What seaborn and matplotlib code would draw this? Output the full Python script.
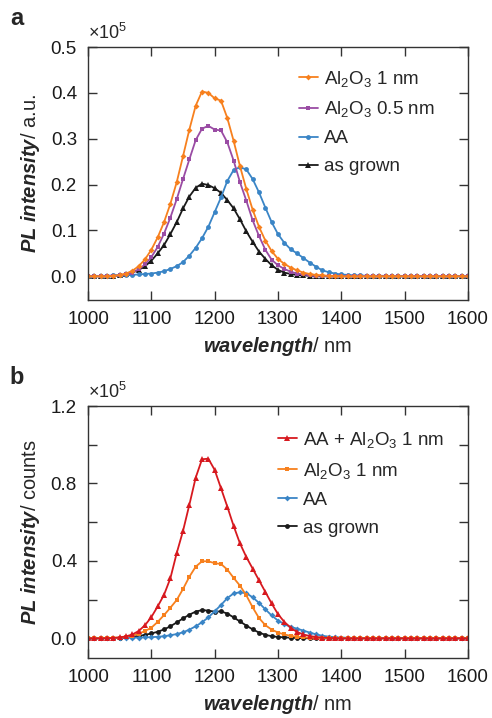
import numpy as np
import pandas as pd
import seaborn as sns
import matplotlib.pyplot as plt
from matplotlib.ticker import MultipleLocator, FormatStrFormatter

# wavelength grid, nm
wavelength = np.arange(1000, 1601, 10)

# PL intensities in units of 1e5 (1000 ... 1600 nm, 10 nm steps)
al2o3_1nm_a = [
    0.000, 0.000, 0.000, 0.000, 0.001, 0.003, 0.006, 0.012, 0.022, 0.037,
    0.058, 0.085, 0.118, 0.158, 0.205, 0.262, 0.320, 0.372, 0.403, 0.400,
    0.388, 0.383, 0.345, 0.295, 0.240, 0.190, 0.145, 0.108, 0.078, 0.055,
    0.038, 0.027, 0.019, 0.013, 0.008, 0.005, 0.003, 0.002, 0.001, 0.001,
    0.000, 0.000, 0.000, 0.000, 0.000, 0.000, 0.000, 0.000, 0.000, 0.000,
    0.000, 0.000, 0.000, 0.000, 0.000, 0.000, 0.000, 0.000, 0.000, 0.000,
    0.000]
al2o3_05nm_a = [
    0.000, 0.000, 0.000, 0.000, 0.001, 0.002, 0.004, 0.008, 0.015, 0.026,
    0.042, 0.064, 0.093, 0.128, 0.168, 0.212, 0.255, 0.297, 0.322, 0.328,
    0.320, 0.318, 0.292, 0.252, 0.205, 0.165, 0.122, 0.088, 0.058, 0.036,
    0.024, 0.016, 0.010, 0.006, 0.004, 0.002, 0.001, 0.001, 0.000, 0.000,
    0.000, 0.000, 0.000, 0.000, 0.000, 0.000, 0.000, 0.000, 0.000, 0.000,
    0.000, 0.000, 0.000, 0.000, 0.000, 0.000, 0.000, 0.000, 0.000, 0.000,
    0.000]
aa = [
    0.000, 0.000, 0.001, 0.001, 0.002, 0.002, 0.003, 0.003, 0.004, 0.005,
    0.006, 0.008, 0.011, 0.016, 0.022, 0.031, 0.045, 0.062, 0.083, 0.108,
    0.140, 0.172, 0.208, 0.232, 0.238, 0.233, 0.212, 0.183, 0.150, 0.118,
    0.092, 0.073, 0.059, 0.050, 0.040, 0.030, 0.021, 0.013, 0.009, 0.006,
    0.004, 0.003, 0.002, 0.002, 0.001, 0.001, 0.001, 0.001, 0.000, 0.000,
    0.000, 0.000, 0.000, 0.000, 0.000, 0.000, 0.000, 0.000, 0.000, 0.000,
    0.000]
as_grown_a = [
    0.000, 0.000, 0.000, 0.000, 0.001, 0.002, 0.004, 0.008, 0.014, 0.022,
    0.034, 0.050, 0.068, 0.092, 0.118, 0.148, 0.174, 0.193, 0.202, 0.199,
    0.192, 0.182, 0.166, 0.148, 0.124, 0.098, 0.075, 0.054, 0.038, 0.024,
    0.014, 0.008, 0.005, 0.003, 0.002, 0.001, 0.001, 0.000, 0.000, 0.000,
    0.000, 0.000, 0.000, 0.000, 0.000, 0.000, 0.000, 0.000, 0.000, 0.000,
    0.000, 0.000, 0.000, 0.000, 0.000, 0.000, 0.000, 0.000, 0.000, 0.000,
    0.000]

aa_al2o3_b = [
    0.000, 0.000, 0.000, 0.001, 0.002, 0.005, 0.010, 0.020, 0.038, 0.068,
    0.110, 0.165, 0.225, 0.310, 0.440, 0.555, 0.690, 0.830, 0.925, 0.928,
    0.870, 0.775, 0.680, 0.580, 0.490, 0.420, 0.360, 0.300, 0.240, 0.180,
    0.125, 0.085, 0.055, 0.033, 0.020, 0.012, 0.007, 0.004, 0.002, 0.001,
    0.000, 0.000, 0.000, 0.000, 0.000, 0.000, 0.000, 0.000, 0.000, 0.000,
    0.000, 0.000, 0.000, 0.000, 0.000, 0.000, 0.000, 0.000, 0.000, 0.000,
    0.000]
al2o3_1nm_b = [
    0.000, 0.000, 0.000, 0.001, 0.002, 0.004, 0.008, 0.014, 0.024, 0.038,
    0.055, 0.085, 0.120, 0.158, 0.198, 0.255, 0.318, 0.370, 0.398, 0.398,
    0.388, 0.384, 0.355, 0.312, 0.272, 0.222, 0.160, 0.105, 0.068, 0.045,
    0.030, 0.020, 0.013, 0.008, 0.005, 0.003, 0.002, 0.001, 0.000, 0.000,
    0.000, 0.000, 0.000, 0.000, 0.000, 0.000, 0.000, 0.000, 0.000, 0.000,
    0.000, 0.000, 0.000, 0.000, 0.000, 0.000, 0.000, 0.000, 0.000, 0.000,
    0.000]
as_grown_b = [
    0.000, 0.000, 0.000, 0.001, 0.002, 0.003, 0.005, 0.008, 0.012, 0.018,
    0.025, 0.034, 0.046, 0.062, 0.082, 0.103, 0.122, 0.138, 0.146, 0.143,
    0.138, 0.139, 0.128, 0.108, 0.087, 0.066, 0.046, 0.030, 0.018, 0.011,
    0.007, 0.005, 0.003, 0.002, 0.001, 0.000, 0.000, 0.000, 0.000, 0.000,
    0.000, 0.000, 0.000, 0.000, 0.000, 0.000, 0.000, 0.000, 0.000, 0.000,
    0.000, 0.000, 0.000, 0.000, 0.000, 0.000, 0.000, 0.000, 0.000, 0.000,
    0.000]

RED, ORANGE, BLUE, PURPLE, BLACK = '#d7191f', '#f7801e', '#3a85c6', '#9a4ca4', '#1a1a1a'

sns.set_theme(style='ticks')
plt.rcParams['font.family'] = ['Liberation Sans', 'DejaVu Sans']
plt.rcParams['mathtext.fontset'] = 'custom'
plt.rcParams['mathtext.rm'] = 'Liberation Sans'
plt.rcParams['mathtext.it'] = 'Liberation Sans:italic'
plt.rcParams['mathtext.bf'] = 'Liberation Sans:bold:italic'

fig = plt.figure(figsize=(4.92, 7.18), dpi=100)
ax_a = fig.add_axes([0.179, 0.582, 0.772, 0.3525])
ax_b = fig.add_axes([0.179, 0.084, 0.772, 0.3505])

series_a = [
    ('as grown', as_grown_a, BLACK, '^', 4.0),
    ('AA', aa, BLUE, 'o', 3.5),
    (r'Al$_2$O$_3$ 0.5 nm', al2o3_05nm_a, PURPLE, 's', 3.2),
    (r'Al$_2$O$_3$ 1 nm', al2o3_1nm_a, ORANGE, 'D', 3.0),
]
series_b = [
    ('as grown', as_grown_b, BLACK, 'o', 3.5),
    ('AA', aa, BLUE, 'D', 3.0),
    (r'Al$_2$O$_3$ 1 nm', al2o3_1nm_b, ORANGE, 's', 3.2),
    (r'AA + Al$_2$O$_3$ 1 nm', aa_al2o3_b, RED, '^', 4.0),
]


def draw(ax, series):
    for label, vals, color, marker, ms in series:
        sns.lineplot(x=wavelength, y=vals, ax=ax, color=color, marker=marker,
                     markersize=ms, markeredgewidth=0, linewidth=1.3, label=label)
    ax.set_xlim(1000, 1600)
    ax.xaxis.set_major_locator(MultipleLocator(100))
    for s in ax.spines.values():
        s.set_visible(True)
        s.set_color('#333333')
        s.set_linewidth(1.0)
    ax.tick_params(which='both', direction='in', top=True, right=True,
                   length=6.5, width=1.0, color='#333333',
                   labelsize=13.5, labelcolor='#1a1a1a', pad=8)
    ax.set_xlabel(r'$\mathbf{wavelength}$/ nm', fontsize=14.5, labelpad=5)
    handles, labels = ax.get_legend_handles_labels()
    ax.legend(handles[::-1], labels[::-1], frameon=False, fontsize=13.5,
              loc='upper left', handlelength=1.0, handletextpad=0.35,
              borderaxespad=0, borderpad=0, labelspacing=0.58)
    return ax.get_legend()


draw(ax_a, series_a)
ax_a.set_ylim(-0.052, 0.5)
ax_a.yaxis.set_major_locator(MultipleLocator(0.1))
ax_a.yaxis.set_major_formatter(FormatStrFormatter('%.1f'))
ax_a.set_ylabel(r'$\mathbf{PL\ intensity}$/ a.u.', fontsize=14.5, labelpad=6)
ax_a.get_legend().set_bbox_to_anchor((0.555, 0.915), transform=ax_a.transAxes)
ax_a.text(0.0, 1.015, r'$\times$10$^5$', transform=ax_a.transAxes,
          fontsize=13, ha='left', va='bottom')

draw(ax_b, series_b)
ax_b.set_ylim(-0.1, 1.2)
ax_b.yaxis.set_major_locator(MultipleLocator(0.4))
ax_b.yaxis.set_minor_locator(MultipleLocator(0.2))
ax_b.yaxis.set_major_formatter(FormatStrFormatter('%.1f'))
ax_b.set_ylabel(r'$\mathbf{PL\ intensity}$/ counts', fontsize=14.5, labelpad=6)
ax_b.get_legend().set_bbox_to_anchor((0.5, 0.905), transform=ax_b.transAxes)
ax_b.text(0.0, 1.015, r'$\times$10$^5$', transform=ax_b.transAxes,
          fontsize=13, ha='left', va='bottom')

fig.text(0.02, 0.965, 'a', fontsize=17, fontweight='bold')
fig.text(0.02, 0.465, 'b', fontsize=17, fontweight='bold')

fig.savefig('out.png', dpi=100)
